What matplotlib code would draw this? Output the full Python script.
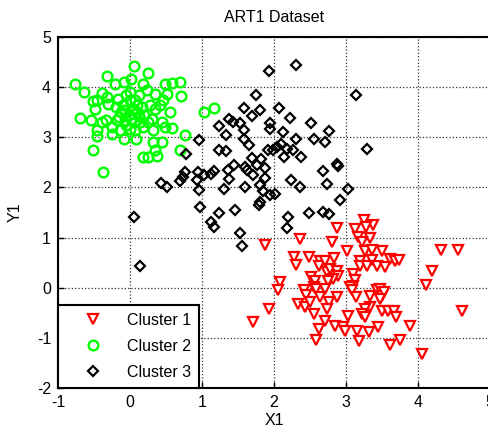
import matplotlib
matplotlib.use('Agg')
import matplotlib.pyplot as plt

plt.rcParams['font.family'] = ['Liberation Sans', 'DejaVu Sans']
plt.rcParams['axes.unicode_minus'] = False

# Cluster 1 (red triangles)
c1_x = [3.25, 3.38, 3.13, 3.28, 2.87, 3.17, 3.33, 3.22, 2.36, 2.80, 1.88, 3.01, 3.26, 3.36, 3.50,
        4.32, 4.55, 2.28, 2.31, 2.48, 2.64, 2.62, 2.71, 2.83, 3.20, 3.19, 3.29, 3.36, 3.43, 3.54,
        3.61, 3.68, 3.73, 4.19, 4.11, 4.61, 2.73, 2.78, 2.87, 2.89, 2.82, 2.75, 2.52, 2.57, 2.55,
        3.10, 3.13, 3.10, 3.06, 2.09, 2.06, 2.42, 2.45, 2.58, 2.71, 2.64, 3.08, 3.14, 3.33, 3.43,
        3.47, 3.50, 3.53, 3.47, 2.87, 2.77, 2.34, 2.43, 2.50, 2.73, 3.33, 3.26, 3.50, 3.59, 3.66,
        3.70, 1.93, 1.71, 2.55, 3.03, 3.22, 3.26, 2.71, 2.62, 2.85, 2.96, 2.99, 3.15, 3.45, 3.32,
        3.89, 2.58, 3.18, 3.61, 3.75, 4.05]
c1_y = [1.35, 1.26, 1.17, 1.21, 1.19, 1.01, 0.99, 0.91, 0.97, 0.91, 0.85, 0.74, 0.74, 0.75, 0.74,
        0.76, 0.76, 0.61, 0.46, 0.62, 0.54, 0.43, 0.54, 0.59, 0.54, 0.44, 0.44, 0.55, 0.44, 0.42,
        0.57, 0.54, 0.55, 0.34, 0.05, -0.46, 0.31, 0.37, 0.34, 0.24, 0.17, 0.14, 0.22, 0.14, 0.02,
        0.27, 0.15, 0.04, 0.02, 0.11, -0.05, -0.05, -0.14, -0.03, -0.03, -0.19, -0.05, -0.19, -0.16, -0.05,
        -0.03, -0.16, -0.09, -0.23, -0.19, -0.29, -0.33, -0.38, -0.29, -0.43, -0.38, -0.43, -0.46, -0.46, -0.46,
        -0.59, -0.43, -0.69, -0.53, -0.56, -0.53, -0.59, -0.66, -0.83, -0.76, -0.78, -0.86, -0.86, -0.78, -0.89,
        -0.76, -1.05, -1.06, -1.14, -1.05, -1.33]

# Cluster 2 (green circles)
c2_x = [-0.77, -0.64, -0.32, 0.06, 0.25, -0.21, -0.09, 0.02, 0.18, 0.49, 0.59, 0.70, 0.71, 0.52, 0.46,
        0.35, 0.23, -0.51, -0.46, -0.39, -0.32, -0.30, -0.48, -0.16, 0.07, 0.16, 0.28, 0.35, 0.42, 0.56,
        -0.70, -0.54, -0.39, -0.34, -0.18, -0.07, 0.02, 0.14, 0.30, 0.44, 0.49, 0.58, -0.46, -0.46, -0.25,
        -0.14, -0.09, 0.00, 0.07, 0.09, 0.32, 0.76, 0.32, 0.44, 0.35, 0.18, 0.25, 0.38, 0.69, -0.51,
        -0.37, 1.03, 1.16, -0.05, 0.00, -0.10, 0.05, -0.02, 0.10, -0.12, 0.12, -0.05, 0.05, 0.20,
        -0.15, 0.10, 0.25, -0.20, 0.00, 0.12, -0.08, 0.18, -0.25]
c2_y = [4.06, 3.91, 4.22, 4.42, 4.29, 4.06, 4.11, 4.17, 4.06, 4.06, 4.09, 4.11, 3.82, 3.86, 3.74,
        3.87, 3.94, 3.73, 3.75, 3.89, 3.81, 3.67, 3.57, 3.77, 3.74, 3.61, 3.64, 3.57, 3.64, 3.51,
        3.39, 3.34, 3.31, 3.35, 3.35, 3.34, 3.37, 3.31, 3.37, 3.31, 3.21, 3.19, 3.15, 3.02, 3.06,
        3.14, 2.97, 3.17, 3.14, 2.97, 3.15, 3.05, 2.91, 2.91, 2.74, 2.61, 2.61, 2.62, 2.75, 2.75,
        2.31, 3.51, 3.59, 3.85, 3.75, 3.65, 3.55, 3.45, 3.50, 3.50, 3.42, 3.25, 3.30, 3.45,
        3.40, 3.65, 3.30, 3.60, 3.90, 3.85, 3.55, 3.20, 3.20]

# Cluster 3 (black diamonds)
c3_x = [2.31, 1.93, 1.75, 3.14, 1.58, 1.80, 1.70, 2.07, 2.22, 1.38, 1.43, 1.53, 1.23, 1.58, 1.94,
        1.94, 2.13, 2.51, 2.76, 2.55, 2.71, 2.31, 1.34, 1.58, 1.65, 0.96, 1.23, 1.33, 0.78, 2.04,
        2.10, 1.99, 2.18, 2.27, 1.91, 2.14, 2.38, 3.29, 1.69, 1.82, 1.44, 1.60, 1.62, 1.76, 1.88,
        1.71, 1.88, 1.36, 1.37, 1.16, 1.13, 1.03, 0.94, 0.93, 0.76, 0.73, 0.70, 0.43, 0.52, 0.96,
        1.31, 1.60, 1.81, 1.85, 1.94, 2.02, 2.24, 2.36, 2.68, 2.87, 2.89, 2.74, 3.03, 2.92, 1.80,
        1.79, 0.97, 1.24, 1.46, 1.13, 1.17, 2.20, 2.18, 2.48, 2.68, 2.76, 1.53, 1.55, 0.05, 0.14]
c3_y = [4.45, 4.33, 3.85, 3.85, 3.59, 3.54, 3.42, 3.59, 3.39, 3.37, 3.31, 3.29, 3.22, 3.14, 3.29,
        3.17, 3.11, 3.29, 3.12, 2.97, 2.91, 2.97, 3.05, 2.97, 2.85, 2.94, 2.75, 2.72, 2.67, 2.81,
        2.86, 2.74, 2.77, 2.74, 2.74, 2.61, 2.61, 2.77, 2.59, 2.57, 2.44, 2.41, 2.34, 2.44, 2.39,
        2.24, 2.19, 2.34, 2.17, 2.33, 2.26, 2.24, 2.31, 2.14, 2.31, 2.21, 2.13, 2.09, 2.01, 1.94,
        1.97, 2.01, 2.04, 1.93, 1.84, 1.87, 2.15, 2.01, 2.33, 2.46, 2.43, 2.07, 1.97, 1.74, 1.71,
        1.64, 1.61, 1.49, 1.54, 1.32, 1.21, 1.41, 1.19, 1.49, 1.51, 1.47, 1.09, 0.84, 1.41, 0.44]

fig = plt.figure(figsize=(4.88, 4.37), dpi=100)
ax = fig.add_axes([58 / 488, 49 / 437, 432 / 488, 351 / 437])

ax.plot(c1_x, c1_y, 'v', color='red', mfc='white', ms=6.5, mew=1.6, label='Cluster 1')
ax.plot(c2_x, c2_y, 'o', color='#00ff00', mfc='none', ms=7, mew=1.7, label='Cluster 2')
ax.plot(c3_x, c3_y, 'D', color='black', mfc='none', ms=4.8, mew=1.6, label='Cluster 3')

ax.set_xlim(-1, 5)
ax.set_ylim(-2, 5)
ax.set_xticks(range(-1, 6))
ax.set_yticks(range(-2, 6))
ax.tick_params(direction='in', labelsize=11.5, length=4, width=1, pad=5)
ax.grid(True, color='#333333', linestyle=':', linewidth=0.9)
for s in ax.spines.values():
    s.set_linewidth(1.5)

ax.set_title('ART1 Dataset', fontsize=11.5, pad=11)
ax.set_xlabel('X1', fontsize=11.5, labelpad=2)
ax.set_ylabel('Y1', fontsize=11.5, labelpad=10)

leg = ax.legend(loc='lower left', borderaxespad=0, fancybox=False, edgecolor='black',
                fontsize=11.5, handletextpad=0.4, borderpad=0.5, labelspacing=0.7,
                handlelength=3.4, framealpha=1)
leg.get_frame().set_linewidth(1.5)

fig.savefig('out.png', dpi=100)
